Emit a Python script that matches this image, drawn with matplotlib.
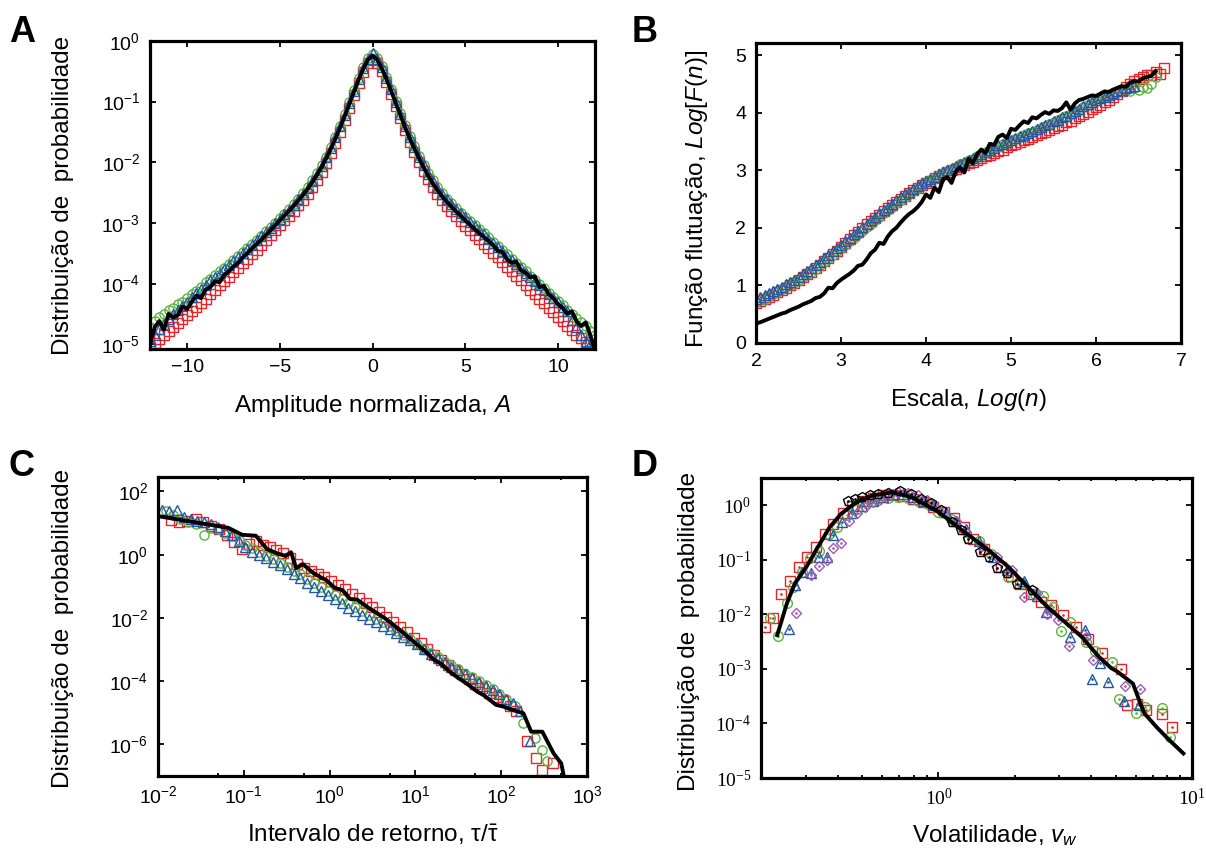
import numpy as np
import matplotlib
matplotlib.use('Agg')
import matplotlib.pyplot as plt
from matplotlib.ticker import LogLocator, NullFormatter, FixedLocator, NullLocator

plt.rcParams['font.family'] = ['Liberation Sans', 'DejaVu Sans']
plt.rcParams['mathtext.fontset'] = 'custom'
plt.rcParams['mathtext.rm'] = 'Liberation Sans'
plt.rcParams['mathtext.it'] = 'Liberation Sans:italic'
plt.rcParams['mathtext.bf'] = 'Liberation Sans:bold'

RED = '#ec2227'
GREEN = '#5db33f'
BLUE = '#2457a6'
PURPLE = '#9d5bb5'

# ---------------- Panel A (log10 of probability) ----------------
A_x = np.linspace(-12, 12, 97)
A_line = [-5.00, -4.72, -4.62, -4.76, -4.50, -4.56, -4.52, -4.38,
          -4.42, -4.30, -4.20, -4.24, -4.10, -4.06, -3.96, -3.98,
          -3.86, -3.80, -3.72, -3.66, -3.57, -3.50, -3.42, -3.35,
          -3.28, -3.20, -3.12, -3.04, -2.96, -2.88, -2.80, -2.72,
          -2.63, -2.54, -2.44, -2.33, -2.21, -2.08, -1.94, -1.78,
          -1.61, -1.43, -1.24, -1.04, -0.84, -0.64, -0.46, -0.31,
          -0.24, -0.31, -0.45, -0.63, -0.82, -1.02, -1.22, -1.42,
          -1.60, -1.77, -1.93, -2.08, -2.22, -2.35, -2.46, -2.56,
          -2.65, -2.73, -2.81, -2.88, -2.96, -3.03, -3.10, -3.17,
          -3.23, -3.30, -3.36, -3.46, -3.48, -3.60, -3.66, -3.64,
          -3.78, -3.82, -3.90, -3.88, -4.06, -4.04, -4.18, -4.24,
          -4.34, -4.40, -4.50, -4.46, -4.62, -4.70, -4.64, -4.86,
          -5.10]
A_red = [-5.05, -4.98, -4.92, -4.85, -4.78, -4.72, -4.65, -4.58,
         -4.52, -4.45, -4.38, -4.32, -4.25, -4.18, -4.10, -4.03,
         -3.96, -3.89, -3.81, -3.74, -3.66, -3.59, -3.51, -3.44,
         -3.36, -3.28, -3.20, -3.12, -3.04, -2.96, -2.88, -2.80,
         -2.71, -2.62, -2.52, -2.41, -2.29, -2.16, -2.01, -1.85,
         -1.68, -1.50, -1.30, -1.10, -0.89, -0.69, -0.51, -0.37,
         -0.31, -0.37, -0.50, -0.68, -0.87, -1.07, -1.27, -1.47,
         -1.66, -1.83, -1.99, -2.14, -2.28, -2.41, -2.53, -2.63,
         -2.72, -2.81, -2.89, -2.97, -3.05, -3.12, -3.20, -3.27,
         -3.35, -3.42, -3.50, -3.57, -3.65, -3.72, -3.80, -3.87,
         -3.95, -4.02, -4.10, -4.17, -4.25, -4.32, -4.40, -4.47,
         -4.55, -4.62, -4.70, -4.77, -4.85, -4.90, -4.96, -5.02,
         -5.06]
A_green = [-4.72, -4.62, -4.55, -4.50, -4.44, -4.40, -4.34, -4.30,
           -4.24, -4.18, -4.12, -4.05, -3.98, -3.92, -3.86, -3.80,
           -3.74, -3.68, -3.62, -3.55, -3.48, -3.42, -3.35, -3.28,
           -3.21, -3.14, -3.07, -3.00, -2.92, -2.85, -2.77, -2.69,
           -2.60, -2.51, -2.41, -2.30, -2.18, -2.05, -1.91, -1.75,
           -1.58, -1.40, -1.21, -1.01, -0.81, -0.61, -0.43, -0.28,
           -0.21, -0.28, -0.42, -0.60, -0.79, -0.99, -1.19, -1.39,
           -1.57, -1.74, -1.90, -2.04, -2.18, -2.30, -2.41, -2.51,
           -2.60, -2.68, -2.76, -2.83, -2.90, -2.97, -3.04, -3.10,
           -3.17, -3.24, -3.31, -3.38, -3.45, -3.52, -3.59, -3.66,
           -3.73, -3.80, -3.87, -3.94, -4.01, -4.08, -4.15, -4.22,
           -4.29, -4.36, -4.43, -4.50, -4.57, -4.64, -4.70, -4.78,
           -4.85]
A_blue = [-4.95, -4.85, -4.75, -4.66, -4.58, -4.50, -4.43, -4.37,
          -4.30, -4.23, -4.16, -4.09, -4.02, -3.95, -3.89, -3.82,
          -3.76, -3.70, -3.63, -3.56, -3.49, -3.43, -3.36, -3.29,
          -3.22, -3.15, -3.08, -3.01, -2.93, -2.86, -2.78, -2.70,
          -2.61, -2.52, -2.42, -2.31, -2.19, -2.06, -1.92, -1.76,
          -1.59, -1.41, -1.22, -1.02, -0.82, -0.62, -0.44, -0.29,
          -0.20, -0.29, -0.43, -0.61, -0.80, -1.00, -1.20, -1.40,
          -1.58, -1.75, -1.91, -2.05, -2.19, -2.31, -2.42, -2.52,
          -2.61, -2.69, -2.77, -2.84, -2.91, -2.98, -3.05, -3.12,
          -3.19, -3.26, -3.33, -3.40, -3.47, -3.54, -3.61, -3.68,
          -3.75, -3.82, -3.89, -3.96, -4.03, -4.10, -4.17, -4.24,
          -4.31, -4.38, -4.46, -4.60, -4.72, -4.85, -4.95, -5.00,
          -5.05]

# ---------------- Panel B ----------------
B_x = np.linspace(2.0, 6.8, 97)
B_red = [0.70, 0.73, 0.77, 0.80, 0.84, 0.88, 0.92, 0.96,
         1.00, 1.04, 1.09, 1.14, 1.19, 1.24, 1.30, 1.36,
         1.42, 1.48, 1.54, 1.60, 1.67, 1.74, 1.80, 1.87,
         1.93, 2.00, 2.06, 2.12, 2.17, 2.23, 2.29, 2.34,
         2.40, 2.45, 2.50, 2.55, 2.60, 2.65, 2.70, 2.74,
         2.78, 2.82, 2.86, 2.90, 2.93, 2.97, 3.00, 3.03,
         3.06, 3.09, 3.12, 3.15, 3.18, 3.21, 3.24, 3.27,
         3.30, 3.33, 3.36, 3.40, 3.43, 3.46, 3.49, 3.52,
         3.55, 3.58, 3.61, 3.64, 3.67, 3.70, 3.73, 3.76,
         3.79, 3.83, 3.86, 3.90, 3.94, 3.98, 4.02, 4.06,
         4.10, 4.14, 4.18, 4.22, 4.27, 4.32, 4.38, 4.44,
         4.50, 4.55, 4.58, 4.62, 4.66, 4.65, 4.70, 4.68,
         4.78]
B_green = [0.71, 0.74, 0.77, 0.81, 0.85, 0.89, 0.93, 0.97,
           1.01, 1.05, 1.09, 1.14, 1.19, 1.24, 1.29, 1.35,
           1.41, 1.47, 1.53, 1.59, 1.65, 1.71, 1.77, 1.83,
           1.89, 1.95, 2.01, 2.07, 2.13, 2.19, 2.25, 2.31,
           2.37, 2.43, 2.48, 2.54, 2.59, 2.64, 2.69, 2.74,
           2.79, 2.83, 2.87, 2.91, 2.95, 2.99, 3.03, 3.06,
           3.10, 3.13, 3.17, 3.20, 3.24, 3.27, 3.31, 3.34,
           3.38, 3.41, 3.45, 3.48, 3.51, 3.55, 3.58, 3.61,
           3.64, 3.67, 3.70, 3.74, 3.77, 3.80, 3.83, 3.87,
           3.90, 3.94, 3.97, 4.01, 4.05, 4.09, 4.13, 4.17,
           4.21, 4.25, 4.28, 4.31, 4.34, 4.36, 4.38, 4.40,
           4.38, 4.42, 4.40, 4.45, 4.43, 4.50, 4.62]
B_blue = [0.76, 0.79, 0.83, 0.86, 0.90, 0.94, 0.98, 1.02,
          1.06, 1.10, 1.15, 1.20, 1.25, 1.30, 1.36, 1.41,
          1.47, 1.53, 1.59, 1.65, 1.71, 1.77, 1.83, 1.89,
          1.95, 2.01, 2.07, 2.13, 2.19, 2.25, 2.31, 2.37,
          2.42, 2.48, 2.53, 2.58, 2.63, 2.68, 2.73, 2.77,
          2.81, 2.85, 2.89, 2.93, 2.97, 3.01, 3.04, 3.08,
          3.11, 3.15, 3.18, 3.22, 3.25, 3.29, 3.32, 3.36,
          3.39, 3.43, 3.46, 3.49, 3.53, 3.56, 3.59, 3.62,
          3.65, 3.68, 3.72, 3.75, 3.78, 3.81, 3.85, 3.88,
          3.92, 3.95, 3.99, 4.03, 4.07, 4.11, 4.15, 4.18,
          4.22, 4.25, 4.28, 4.31, 4.34, 4.37, 4.40, 4.42,
          4.44, 4.46]
B_line = [0.34, 0.36, 0.39, 0.42, 0.45, 0.48, 0.51, 0.53,
          0.57, 0.60, 0.63, 0.67, 0.70, 0.73, 0.78, 0.80,
          0.86, 0.96, 0.95, 1.04, 1.10, 1.15, 1.20, 1.26,
          1.34, 1.36, 1.45, 1.56, 1.62, 1.74, 1.72, 1.85,
          1.94, 2.00, 2.09, 2.17, 2.24, 2.29, 2.36, 2.45,
          2.58, 2.52, 2.70, 2.62, 2.84, 2.88, 2.78, 2.98,
          3.05, 2.96, 3.20, 3.12, 3.28, 3.36, 3.30, 3.46,
          3.44, 3.58, 3.62, 3.56, 3.72, 3.70, 3.78, 3.85,
          3.82, 3.92, 3.90, 3.96, 4.01, 3.98, 4.04, 4.03,
          4.08, 4.18, 4.05, 4.16, 4.22, 4.24, 4.27, 4.30,
          4.29, 4.33, 4.37, 4.36, 4.40, 4.43, 4.46, 4.45,
          4.52, 4.55, 4.54, 4.60, 4.62, 4.64, 4.72]

# ---------------- Panel C (log10 x, log10 y) ----------------
C_red = [(-1.85, 1.10), (-1.76, 1.05), (-1.66, 1.08), (-1.56, 1.14), (-1.47, 1.05),
         (-1.38, 0.92), (-1.29, 0.80), (-1.20, 0.62), (-1.11, 0.40), (-1.02, 0.18),
         (-0.94, 0.34), (-0.86, 0.44), (-0.78, 0.32), (-0.70, 0.24), (-0.62, 0.14),
         (-0.54, 0.04), (-0.46, -0.12), (-0.38, -0.28), (-0.30, -0.42), (-0.22, -0.52),
         (-0.14, -0.62), (-0.06, -0.72), (0.02, -0.82), (0.10, -0.96), (0.18, -1.10),
         (0.26, -1.24), (0.34, -1.38), (0.42, -1.52), (0.50, -1.66), (0.58, -1.82),
         (0.66, -1.98), (0.74, -2.14), (0.82, -2.30), (0.90, -2.46), (0.98, -2.62),
         (1.06, -2.80), (1.14, -2.98), (1.22, -3.16), (1.30, -3.32), (1.38, -3.48),
         (1.46, -3.64), (1.54, -3.78), (1.62, -3.94), (1.70, -4.08), (1.78, -4.22),
         (1.86, -4.36), (1.94, -4.50), (2.02, -4.64), (2.10, -4.78), (2.17, -4.95),
         (2.30, -5.90), (2.41, -6.44), (2.48, -6.80), (2.60, -6.60)]
C_green = [(-1.91, 1.37), (-1.83, 1.25), (-1.74, 1.12), (-1.65, 1.05), (-1.56, 0.98),
           (-1.46, 0.62), (-1.38, 0.85), (-1.30, 0.80), (-1.22, 0.70), (-1.14, 0.58),
           (-1.06, 0.45), (-0.98, 0.32), (-0.90, 0.20), (-0.82, 0.08), (-0.74, -0.04),
           (-0.66, -0.14), (-0.58, -0.26), (-0.50, -0.38), (-0.42, -0.50), (-0.34, -0.62),
           (-0.26, -0.76), (-0.18, -0.90), (-0.10, -1.02), (-0.02, -1.16), (0.06, -1.28),
           (0.14, -1.40), (0.22, -1.54), (0.30, -1.66), (0.38, -1.78), (0.46, -1.90),
           (0.54, -2.02), (0.62, -2.14), (0.70, -2.27), (0.78, -2.40), (0.86, -2.54),
           (0.94, -2.68), (1.02, -2.82), (1.10, -2.97), (1.18, -3.12), (1.26, -3.24),
           (1.34, -3.38), (1.42, -3.50), (1.50, -3.62), (1.58, -3.76), (1.66, -3.88),
           (1.74, -4.00), (1.82, -4.12), (1.90, -4.24), (1.98, -4.40), (2.06, -4.58),
           (2.16, -4.80), (2.25, -5.33), (2.39, -5.80), (2.48, -6.18), (2.54, -6.54)]
C_blue = [(-1.95, 1.40), (-1.87, 1.38), (-1.78, 1.42), (-1.70, 1.18), (-1.62, 1.12),
          (-1.54, 1.08), (-1.46, 1.02), (-1.38, 0.98), (-1.30, 0.88), (-1.22, 0.76),
          (-1.14, 0.62), (-1.06, 0.44), (-0.98, 0.24), (-0.90, 0.10), (-0.82, 0.00),
          (-0.74, -0.10), (-0.66, -0.22), (-0.58, -0.34), (-0.50, -0.46), (-0.42, -0.60),
          (-0.34, -0.74), (-0.26, -0.88), (-0.18, -1.02), (-0.10, -1.16), (-0.02, -1.29),
          (0.06, -1.40), (0.14, -1.54), (0.22, -1.68), (0.30, -1.79), (0.38, -1.90),
          (0.46, -2.02), (0.54, -2.13), (0.62, -2.24), (0.70, -2.36), (0.78, -2.48),
          (0.86, -2.59), (0.94, -2.71), (1.02, -2.83), (1.10, -2.98), (1.18, -3.14),
          (1.26, -3.28), (1.34, -3.41), (1.42, -3.54), (1.50, -3.66), (1.58, -3.78),
          (1.66, -3.90), (1.74, -4.02), (1.82, -4.15), (1.90, -4.28), (1.98, -4.42),
          (2.06, -4.55), (2.14, -4.70), (2.22, -4.95), (2.34, -5.90)]
C_line = [(-2.00, 1.22), (-1.18, 0.85), (-1.02, 0.63), (-0.86, 0.60), (-0.73, 0.18),
          (-0.62, 0.05), (-0.51, -0.04), (-0.45, 0.08), (-0.39, -0.42), (-0.31, -0.30),
          (-0.20, -0.56), (-0.10, -0.72), (-0.04, -0.80), (0.06, -1.05), (0.15, -1.12),
          (0.24, -1.40), (0.32, -1.42), (0.46, -1.69), (0.64, -2.00), (0.82, -2.38),
          (1.00, -2.80), (1.10, -3.02), (1.22, -3.33), (1.30, -3.45), (1.40, -3.70),
          (1.50, -3.90), (1.60, -4.08), (1.72, -4.33), (1.80, -4.45), (1.94, -4.75),
          (2.02, -4.80), (2.12, -4.90), (2.26, -5.02), (2.35, -5.60), (2.48, -5.60),
          (2.61, -6.28), (2.70, -6.60), (2.73, -7.00)]

# ---------------- Panel D (log10 x, log10 y) ----------------
D_red = [(-0.686, -2.23), (-0.652, -2.06), (-0.621, -1.63), (-0.586, -1.39), (-0.552, -1.13),
         (-0.518, -0.95), (-0.483, -0.76), (-0.448, -0.52), (-0.414, -0.34), (-0.376, -0.15),
         (-0.340, -0.02), (-0.300, 0.08), (-0.260, 0.14), (-0.220, 0.18), (-0.180, 0.19),
         (-0.140, 0.17), (-0.100, 0.12), (-0.060, 0.06), (-0.020, -0.03), (0.020, -0.12),
         (0.060, -0.24), (0.100, -0.40), (0.138, -0.62), (0.180, -0.80), (0.245, -1.13),
         (0.285, -1.30), (0.322, -1.44), (0.365, -1.62), (0.406, -1.77), (0.445, -1.83),
         (0.490, -2.02), (0.544, -2.24), (0.590, -2.45), (0.644, -2.71), (0.721, -3.00),
         (0.744, -3.67), (0.782, -3.64), (0.820, -3.75), (0.882, -3.82), (0.920, -4.06)]
D_green = [(-0.664, -2.06), (-0.632, -2.40), (-0.598, -1.80), (-0.572, -1.50), (-0.540, -1.22),
           (-0.506, -0.97), (-0.471, -0.83), (-0.433, -0.52), (-0.399, -0.39), (-0.360, -0.18),
           (-0.320, -0.06), (-0.280, 0.04), (-0.240, 0.10), (-0.200, 0.14), (-0.160, 0.15),
           (-0.120, 0.13), (-0.080, 0.08), (-0.040, 0.02), (0.000, -0.12), (0.050, -0.26),
           (0.115, -0.60), (0.160, -0.66), (0.207, -0.89), (0.276, -1.31), (0.330, -1.42),
           (0.380, -1.62), (0.414, -1.67), (0.450, -1.86), (0.483, -2.30), (0.517, -2.14),
           (0.583, -2.51), (0.617, -2.67), (0.683, -2.87), (0.713, -3.56), (0.779, -3.81),
           (0.813, -3.69), (0.882, -3.71), (0.913, -4.24)]
D_blue = [(-0.590, -2.26), (-0.567, -1.47), (-0.537, -1.22), (-0.502, -1.25), (-0.471, -0.95),
          (-0.440, -0.95), (-0.414, -0.55), (-0.380, -0.31), (-0.340, -0.14), (-0.300, -0.02),
          (-0.260, 0.08), (-0.220, 0.15), (-0.180, 0.20), (-0.140, 0.20), (-0.100, 0.15),
          (-0.060, 0.08), (-0.020, 0.00), (0.030, -0.12), (0.070, -0.28), (0.107, -0.43),
          (0.160, -0.66), (0.215, -0.95), (0.270, -1.18), (0.337, -1.38), (0.390, -1.66),
          (0.424, -1.96), (0.520, -2.42), (0.579, -2.29), (0.605, -3.18), (0.638, -2.90),
          (0.669, -3.24), (0.730, -3.58), (0.790, -3.67)]
D_purple = [(-0.560, -1.97), (-0.502, -1.27), (-0.471, -1.12), (-0.440, -1.00), (-0.414, -0.79),
            (-0.386, -0.69), (-0.353, -0.28), (-0.322, -0.15), (-0.291, -0.03), (-0.260, 0.06),
            (-0.230, 0.12), (-0.190, 0.18), (-0.161, 0.24), (-0.120, 0.22), (-0.080, 0.18),
            (-0.046, 0.09), (-0.015, -0.03), (0.023, -0.12), (0.069, -0.28), (0.110, -0.49),
            (0.170, -0.75), (0.230, -0.95), (0.290, -1.19), (0.339, -1.68), (0.390, -1.60),
            (0.430, -1.99), (0.470, -2.10), (0.513, -2.58), (0.583, -2.41), (0.610, -2.84),
            (0.737, -3.32), (0.796, -3.36)]
D_black = [(-0.357, 0.07), (-0.330, 0.12), (-0.300, 0.16), (-0.270, 0.19), (-0.240, 0.21),
           (-0.200, 0.23), (-0.153, 0.27), (-0.107, 0.20), (-0.070, 0.12), (-0.030, 0.04),
           (0.010, -0.08), (0.052, -0.30), (0.090, -0.45), (0.118, -0.62), (0.164, -0.86),
           (0.200, -0.95), (0.230, -1.15), (0.270, -1.25), (0.309, -1.45), (0.368, -1.56)]
D_line = [(-0.636, -2.38), (-0.598, -1.80), (-0.567, -1.44), (-0.521, -1.13), (-0.475, -0.76),
          (-0.429, -0.40), (-0.383, -0.15), (-0.322, 0.06), (-0.260, 0.18), (-0.184, 0.24),
          (-0.107, 0.15), (0.000, -0.12), (0.077, -0.40), (0.200, -0.83), (0.276, -1.13),
          (0.353, -1.50), (0.429, -1.86), (0.506, -2.17), (0.567, -2.42), (0.629, -2.76),
          (0.680, -2.98), (0.706, -3.05), (0.767, -3.27), (0.797, -3.64), (0.813, -3.82),
          (0.859, -4.06), (0.905, -4.28), (0.966, -4.55)]


def pw(pairs):
    a = np.array(pairs, dtype=float)
    return 10 ** a[:, 0], 10 ** a[:, 1]


def style(ax, size=14):
    for s in ax.spines.values():
        s.set_linewidth(2.3)
    ax.tick_params(which='both', direction='in', top=True, right=True,
                   width=1.3, labelsize=size, pad=7)
    ax.tick_params(which='major', length=4.5)
    ax.tick_params(which='minor', length=2.5)


MK = dict(ls='none', mfc='none', ms=6.6, mew=1.0)
LW = 2.8
LAB = 17.5

fig = plt.figure(figsize=(12.06, 8.5), dpi=100)
axA = fig.add_axes([0.1244, 0.5894, 0.3690, 0.3624])
axB = fig.add_axes([0.6269, 0.5965, 0.3524, 0.3529])
axC = fig.add_axes([0.1310, 0.0871, 0.3557, 0.3518])
axD = fig.add_axes([0.6310, 0.0847, 0.3574, 0.3529])

# ---- A ----
axA.plot(A_x, 10 ** np.array(A_red), marker='s', color=RED, **MK)
axA.plot(A_x, 10 ** np.array(A_green), marker='o', color=GREEN, **MK)
axA.plot(A_x, 10 ** np.array(A_blue), marker='^', color=BLUE, **MK)
axA.plot(A_x, 10 ** np.array(A_line), color='k', lw=LW, zorder=5)
axA.set_yscale('log')
axA.set_xlim(-12, 12)
axA.set_ylim(10 ** -5.08, 1)
axA.set_xticks([-10, -5, 0, 5, 10])
axA.yaxis.set_major_locator(LogLocator(base=10, numticks=12))
axA.yaxis.set_minor_locator(NullLocator())
style(axA)
axA.set_xlabel('Amplitude normalizada, $A$', fontsize=LAB)
axA.xaxis.set_label_coords(0.5, -0.143)
axA.set_ylabel('Distribuição de  probabilidade', fontsize=LAB)
axA.yaxis.set_label_coords(-0.171, 0.5)

# ---- B ----
axB.plot(B_x[:len(B_red)], B_red, marker='s', color=RED, **MK)
axB.plot(B_x[:len(B_green)], B_green, marker='o', color=GREEN, **MK)
axB.plot(B_x[:len(B_blue)], B_blue, marker='^', color=BLUE, **MK)
axB.plot(B_x[:len(B_line)], B_line, color='k', lw=LW, zorder=5)
axB.set_xlim(2, 7)
axB.set_ylim(0, 5.21)
axB.set_xticks([2, 3, 4, 5, 6, 7])
axB.set_yticks([0, 1, 2, 3, 4, 5])
style(axB)
axB.set_xlabel('Escala, $Log(n)$', fontsize=LAB)
axB.xaxis.set_label_coords(0.5, -0.147)
axB.set_ylabel('Função flutuação, $Log[F(n)]$', fontsize=LAB)
axB.yaxis.set_label_coords(-0.108, 0.48)

# ---- C ----
for data, m, c in [(C_red, 's', RED), (C_green, 'o', GREEN), (C_blue, '^', BLUE)]:
    x, y = pw(data)
    axC.plot(x, y, marker=m, color=c, **MK)
x, y = pw(C_line)
axC.plot(x, y, color='k', lw=LW, zorder=5)
axC.set_xscale('log')
axC.set_yscale('log')
axC.set_xlim(1e-2, 1e3)
axC.set_ylim(1e-7, 10 ** 2.46)
axC.xaxis.set_major_locator(LogLocator(base=10, numticks=12))
axC.xaxis.set_minor_locator(LogLocator(base=10, subs=(5.0,), numticks=12))
axC.xaxis.set_minor_formatter(NullFormatter())
axC.yaxis.set_major_locator(FixedLocator([1e2, 1e0, 1e-2, 1e-4, 1e-6]))
axC.yaxis.set_minor_locator(NullLocator())
style(axC)
axC.set_xlabel(r'Intervalo de retorno, $\mathrm{\tau}/\bar{\mathrm{\tau}}$', fontsize=LAB)
axC.xaxis.set_label_coords(0.5, -0.154)
axC.set_ylabel('Distribuição de  probabilidade', fontsize=LAB)
axC.yaxis.set_label_coords(-0.196, 0.495)

# ---- D ----
for data, m, c, s in [(D_red, 's', RED, 7.0), (D_green, 'o', GREEN, 7.0),
                      (D_blue, '^', BLUE, 7.0), (D_purple, 'D', PURPLE, 5.2),
                      (D_black, 'p', 'k', 7.0)]:
    x, y = pw(data)
    axD.plot(x, y, marker=m, color=c, ls='none', mfc='none', ms=s, mew=1.0)
    axD.plot(x, y, marker='.', color=c, ls='none', ms=1.8)
x, y = pw(D_line)
axD.plot(x, y, color='k', lw=LW, zorder=5)
axD.set_xscale('log')
axD.set_yscale('log')
axD.set_xlim(10 ** -0.70, 10)
axD.set_ylim(1e-5, 10 ** 0.5)
axD.xaxis.set_major_locator(FixedLocator([1, 10]))
axD.xaxis.set_minor_locator(LogLocator(base=10, subs=(2, 3, 4, 5, 6, 7, 8, 9), numticks=12))
axD.xaxis.set_minor_formatter(NullFormatter())
axD.yaxis.set_major_locator(LogLocator(base=10, numticks=12))
axD.yaxis.set_minor_locator(NullLocator())
style(axD, size=14)
axD.tick_params(labelfontfamily='Liberation Serif')
axD.set_xlabel('Volatilidade, $v_w$', fontsize=LAB)
axD.xaxis.set_label_coords(0.543, -0.15)
axD.set_ylabel('Distribuição de  probabilidade', fontsize=LAB)
axD.yaxis.set_label_coords(-0.142, 0.49)

# panel letters
for lx, ly, t in [(9, 42, 'A'), (632, 42, 'B'), (9, 476, 'C'), (632, 476, 'D')]:
    fig.text(lx / 1206, 1 - ly / 850, t, fontsize=26, fontweight='bold', va='baseline', ha='left')

fig.savefig('out.png', dpi=100)
